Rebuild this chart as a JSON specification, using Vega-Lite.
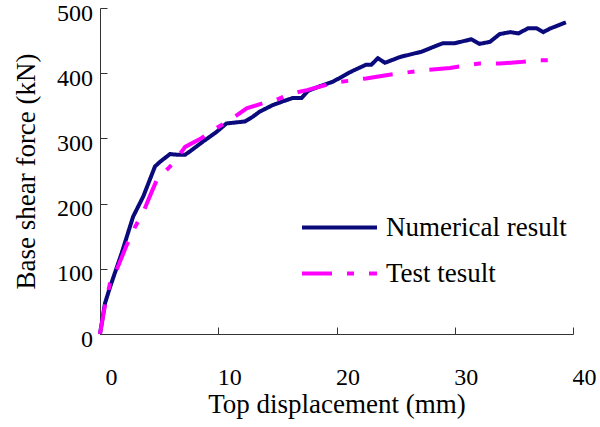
{
  "$schema": "https://vega.github.io/schema/vega-lite/v6.json",
  "width": 473,
  "height": 326,
  "autosize": "none",
  "padding": {"left": 100, "top": 8, "right": 27, "bottom": 93},
  "background": "white",
  "config": {
    "view": {"stroke": null},
    "font": "Liberation Serif",
    "axis": {"grid": false, "domainColor": "#333333", "tickColor": "#333333", "labelColor": "black", "titleColor": "black", "labelFont": "Liberation Serif", "titleFont": "Liberation Serif", "titleFontWeight": "normal", "labelFontSize": 24, "titleFontSize": 27}
  },
  "data": {"values": [
    {"series": "Numerical result", "d": 0, "F": 0},
    {"series": "Numerical result", "d": 0.42, "F": 47},
    {"series": "Numerical result", "d": 0.85, "F": 72},
    {"series": "Numerical result", "d": 1.83, "F": 124},
    {"series": "Numerical result", "d": 2.8, "F": 180},
    {"series": "Numerical result", "d": 3.66, "F": 211},
    {"series": "Numerical result", "d": 4.65, "F": 257},
    {"series": "Numerical result", "d": 5.07, "F": 264},
    {"series": "Numerical result", "d": 5.92, "F": 276},
    {"series": "Numerical result", "d": 6.48, "F": 275},
    {"series": "Numerical result", "d": 7.2, "F": 275},
    {"series": "Numerical result", "d": 7.6, "F": 280},
    {"series": "Numerical result", "d": 8.7, "F": 295},
    {"series": "Numerical result", "d": 9.86, "F": 310},
    {"series": "Numerical result", "d": 10.7, "F": 323},
    {"series": "Numerical result", "d": 11.25, "F": 324},
    {"series": "Numerical result", "d": 12.26, "F": 326},
    {"series": "Numerical result", "d": 12.9, "F": 333},
    {"series": "Numerical result", "d": 13.5, "F": 341},
    {"series": "Numerical result", "d": 14.6, "F": 351},
    {"series": "Numerical result", "d": 15.5, "F": 357},
    {"series": "Numerical result", "d": 16.3, "F": 362},
    {"series": "Numerical result", "d": 17.05, "F": 362},
    {"series": "Numerical result", "d": 17.6, "F": 373},
    {"series": "Numerical result", "d": 18.6, "F": 380},
    {"series": "Numerical result", "d": 19.7, "F": 387},
    {"series": "Numerical result", "d": 20.5, "F": 395},
    {"series": "Numerical result", "d": 21.3, "F": 403},
    {"series": "Numerical result", "d": 22.5, "F": 413},
    {"series": "Numerical result", "d": 22.95, "F": 413},
    {"series": "Numerical result", "d": 23.5, "F": 423},
    {"series": "Numerical result", "d": 24.1, "F": 416},
    {"series": "Numerical result", "d": 25.4, "F": 425},
    {"series": "Numerical result", "d": 27.2, "F": 433},
    {"series": "Numerical result", "d": 28.15, "F": 440},
    {"series": "Numerical result", "d": 29.0, "F": 446},
    {"series": "Numerical result", "d": 30.0, "F": 446},
    {"series": "Numerical result", "d": 31.4, "F": 452},
    {"series": "Numerical result", "d": 32.1, "F": 445},
    {"series": "Numerical result", "d": 32.97, "F": 448},
    {"series": "Numerical result", "d": 33.8, "F": 460},
    {"series": "Numerical result", "d": 34.7, "F": 463},
    {"series": "Numerical result", "d": 35.4, "F": 461},
    {"series": "Numerical result", "d": 36.2, "F": 469},
    {"series": "Numerical result", "d": 36.9, "F": 469},
    {"series": "Numerical result", "d": 37.5, "F": 463},
    {"series": "Numerical result", "d": 38.0, "F": 468},
    {"series": "Numerical result", "d": 39.4, "F": 478},
    {"series": "Test tesult", "d": 0, "F": 0},
    {"series": "Test tesult", "d": 0.42, "F": 44},
    {"series": "Test tesult", "d": 0.85, "F": 78},
    {"series": "Test tesult", "d": 1.4, "F": 98},
    {"series": "Test tesult", "d": 2.25, "F": 136},
    {"series": "Test tesult", "d": 2.96, "F": 164},
    {"series": "Test tesult", "d": 3.66, "F": 187},
    {"series": "Test tesult", "d": 4.37, "F": 218},
    {"series": "Test tesult", "d": 4.8, "F": 236},
    {"series": "Test tesult", "d": 6.2, "F": 262},
    {"series": "Test tesult", "d": 7.2, "F": 287},
    {"series": "Test tesult", "d": 8.45, "F": 299},
    {"series": "Test tesult", "d": 9.86, "F": 316},
    {"series": "Test tesult", "d": 11.0, "F": 328},
    {"series": "Test tesult", "d": 12.4, "F": 346},
    {"series": "Test tesult", "d": 13.8, "F": 354},
    {"series": "Test tesult", "d": 14.9, "F": 359},
    {"series": "Test tesult", "d": 16.06, "F": 368},
    {"series": "Test tesult", "d": 17.5, "F": 374},
    {"series": "Test tesult", "d": 19.7, "F": 385},
    {"series": "Test tesult", "d": 22.5, "F": 392},
    {"series": "Test tesult", "d": 24.2, "F": 397},
    {"series": "Test tesult", "d": 27.6, "F": 405},
    {"series": "Test tesult", "d": 29.6, "F": 408},
    {"series": "Test tesult", "d": 32.1, "F": 415},
    {"series": "Test tesult", "d": 33.8, "F": 415},
    {"series": "Test tesult", "d": 35.5, "F": 417},
    {"series": "Test tesult", "d": 36.9, "F": 420},
    {"series": "Test tesult", "d": 38.0, "F": 420},
    {"series": "Test tesult", "d": 39.0, "F": 415}
  ]},
  "mark": {"type": "line", "strokeWidth": 4, "clip": false},
  "encoding": {
    "x": {"field": "d", "type": "quantitative", "scale": {"domain": [0, 40], "nice": false, "zero": false},
      "axis": {"values": [0, 10, 20, 30, 40], "title": "Top displacement (mm)", "tickSize": -7, "labelPadding": 38, "labelOffset": 11, "titlePadding": 2, "labelFlush": false}},
    "y": {"field": "F", "type": "quantitative", "scale": {"domain": [0, 500], "nice": false},
      "axis": {"values": [0, 100, 200, 300, 400, 500], "title": "Base shear force (kN)", "tickSize": -7, "labelPadding": 14.5, "labelOffset": 5, "titlePadding": 16, "labelFlush": false}},
    "color": {"field": "series", "type": "nominal", "scale": {"domain": ["Numerical result", "Test tesult"], "range": ["#0a0a7c", "#ff00ff"]},
      "legend": {"title": null, "orient": "none", "legendX": 226, "legendY": 206, "symbolType": "M-5,0H5", "symbolSize": 225, "symbolStrokeWidth": 4, "labelFontSize": 27, "labelFont": "Liberation Serif", "labelColor": "black", "labelOffset": 33, "labelLimit": 0, "rowPadding": 18}},
    "strokeDash": {"field": "series", "type": "nominal", "scale": {"domain": ["Numerical result", "Test tesult"], "range": [[1, 0], [30, 15, 7, 15]]}, "legend": null}
  }
}
